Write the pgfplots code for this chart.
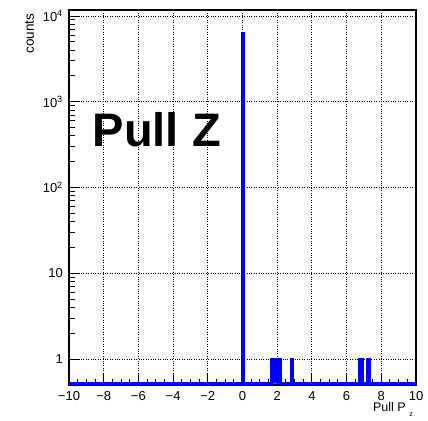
\documentclass[border=0pt]{standalone}
\usepackage{fontspec}
\setmainfont{Liberation Sans}
\usepackage{pgfplots}
\pgfplotsset{compat=1.18}
\definecolor{rootblue}{RGB}{0,0,255}
\pgfplotsset{
  layers/gridbelow/.define layer set={
    axis background,axis grid,pre main,main,axis ticks,axis lines,axis tick labels,axis descriptions,axis foreground
  }{},
}
\begin{document}
\begin{tikzpicture}
\begin{axis}[
  set layers=gridbelow,
  clip mode=individual,
  scale only axis,
  width=347pt, height=375pt,
  ymode=log,
  xmin=-10, xmax=10,
  ymin=0.5, ymax=11750,
  axis line style={line width=1.6pt},
  tick align=inside,
  xtick pos=bottom, ytick pos=left,
  xtick={-10,-8,-6,-4,-2,0,2,4,6,8,10},
  xticklabels={−10,−8,−6,−4,−2,0,2,4,6,8,10},
  minor x tick num=3,
  ytick={1,10,100,1000,10000},
  yticklabels={1,10,10\textsuperscript{2},10\textsuperscript{3},10\textsuperscript{4}},
  major tick length=11pt, minor tick length=6pt,
  every tick/.style={black, line width=1pt},
  grid=major,
  grid style={dotted, black, line width=1pt},
  /pgf/number format/assume math mode=true,
  tick label style={font=\fontsize{13}{15}\selectfont, inner sep=0pt},
  xticklabel style={anchor=north, yshift=-6pt},
  yticklabel style={anchor=east, xshift=-6pt},
]
\addplot[const plot, draw=rootblue, fill=rootblue, line width=3pt] coordinates {
  (-10,0.52) (0,6200) (0.05,0.52) (1.65,1) (2.2,0.52) (2.8,1) (2.9,0.52)
  (6.75,1) (6.9,0.52) (7.2,1) (7.3,0.52) (10,0.52)
};
\node[anchor=base west, font=\fontsize{47}{50}\selectfont\bfseries] at (rel axis cs:0.0585,0.637) {Pull Z};
\node[rotate=90, anchor=base east, font=\fontsize{13.5}{15}\selectfont] at ([xshift=-35pt]rel axis cs:0,1) {counts};
\node[anchor=base east, inner sep=0pt, font=\fontsize{12.5}{14}\selectfont] at ([xshift=-3pt,yshift=-27pt]rel axis cs:1,0) {Pull P\hspace{3.5pt}\raisebox{-5pt}{\fontsize{7}{8}\selectfont z}};
\coordinate (SW) at (rel axis cs:0,0);
\coordinate (NE) at (rel axis cs:1,1);
\end{axis}
\pgfresetboundingbox
\path ([xshift=-69pt,yshift=-35pt]SW) rectangle ([xshift=12pt,yshift=10pt]NE);
\end{tikzpicture}
\end{document}
